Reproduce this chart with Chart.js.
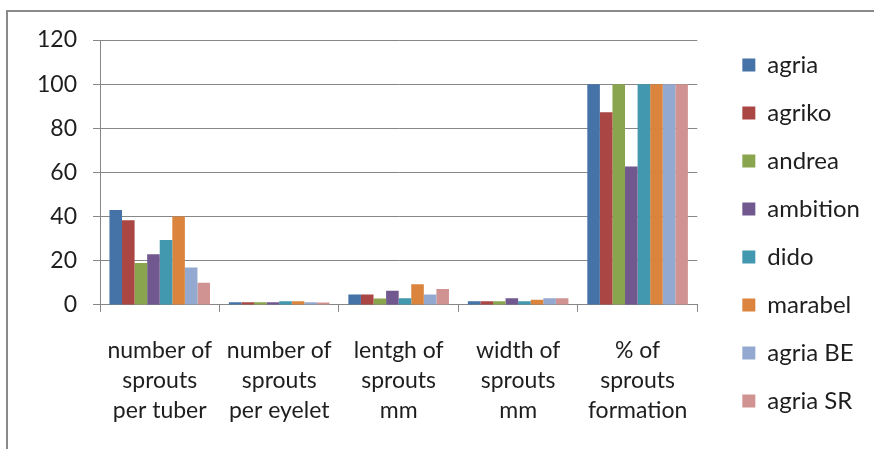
<!DOCTYPE html>
<html>
<head>
<meta charset="utf-8">
<script src="https://cdn.jsdelivr.net/npm/chart.js@4.4.1/dist/chart.umd.min.js"></script>
<style>
  html, body { margin: 0; padding: 0; background: #ffffff; }
  #wrap { position: relative; width: 874px; height: 449px; }
</style>
</head>
<body>
<div id="wrap"><canvas id="c" width="874" height="449"></canvas></div>
<script>
const categories = [
  ["number of", "sprouts", "per tuber"],
  ["number of", "sprouts", "per eyelet"],
  ["lentgh of", "sprouts", "mm"],
  ["width of", "sprouts", "mm"],
  ["% of", "sprouts", "formation"]
];
const seriesNames = ["agria", "agriko", "andrea", "ambition", "dido", "marabel", "agria BE", "agria SR"];
const agria    = [43,   1.2, 4.7, 1.7, 100];
const agriko   = [38.3, 1.2, 4.7, 1.7, 87.3];
const andrea   = [19,   1.2, 2.9, 1.7, 100];
const ambition = [23,   1.2, 6.4, 3.0, 62.7];
const dido     = [29.4, 1.7, 3.0, 1.7, 100];
const marabel  = [40,   1.7, 9.4, 2.3, 100];
const agriaBE  = [17,   1.2, 4.7, 3.0, 100];
const agriaSR  = [10,   1.1, 7.2, 3.0, 100];
const yTicks = [0, 20, 40, 60, 80, 100, 120];

const seriesValues = [agria, agriko, andrea, ambition, dido, marabel, agriaBE, agriaSR];
const colors = ["#4572A7", "#AA4643", "#89A54E", "#71588F", "#4198AF", "#DB843D", "#93A9CF", "#D19392"];

const FONT = "Lato, 'Open Sans', sans-serif";
const GRID = "#878787";
Chart.defaults.font.family = FONT;
Chart.defaults.color = "#1e1e1e";

const framePlugin = {
  id: "frame",
  beforeDraw(chart) {
    const ctx = chart.ctx;
    ctx.save();
    ctx.strokeStyle = "#8a8a8a";
    ctx.lineWidth = 2;
    ctx.beginPath();
    ctx.moveTo(7, chart.height);
    ctx.lineTo(7, 11);
    ctx.lineTo(chart.width, 11);
    ctx.stroke();
    ctx.restore();
  }
};

const spacer = (pos, size) => ({
  position: pos,
  display: true,
  min: 0,
  max: 1,
  grid: { display: false, drawOnChartArea: false },
  border: { display: false },
  ticks: { display: false },
  afterFit: (scale) => {
    if (pos === "top" || pos === "bottom") { scale.height = size; } else { scale.width = size; }
  }
});

new Chart(document.getElementById("c"), {
  type: "bar",
  data: {
    labels: categories,
    datasets: seriesNames.map((name, i) => ({
      label: name,
      data: seriesValues[i],
      backgroundColor: colors[i],
      borderWidth: 0,
      categoryPercentage: 0.842,
      barPercentage: 1.0
    }))
  },
  options: {
    responsive: false,
    animation: false,
    layout: { padding: { left: 0, right: 12, top: 17, bottom: 0 } },
    plugins: {
      legend: {
        position: "right",
        labels: {
          boxWidth: 13,
          boxHeight: 13,
          padding: 24,
          color: "#1e1e1e",
          font: { family: FONT, size: 24 }
        }
      },
      tooltip: { enabled: false }
    },
    scales: {
      x: {
        offset: true,
        grid: {
          offset: true,
          drawOnChartArea: false,
          drawTicks: true,
          tickLength: 7,
          color: GRID,
          lineWidth: 1
        },
        border: { display: true, color: GRID, width: 1 },
        ticks: {
          color: "#1e1e1e",
          padding: 23,
          maxRotation: 0,
          autoSkip: false,
          font: { family: FONT, size: 23, lineHeight: 1.32 }
        }
      },
      y: {
        min: 0,
        max: 120,
        afterBuildTicks: (scale) => { scale.ticks = yTicks.map(v => ({ value: v })); },
        afterFit: (scale) => { scale.width = 100; },
        grid: {
          color: GRID,
          lineWidth: 1,
          tickLength: 7
        },
        border: { display: true, color: GRID, width: 1 },
        ticks: {
          color: "#1e1e1e",
          padding: 16,
          font: { family: FONT, size: 23 }
        }
      },
      gapRight: spacer("right", 21),
      gapTop: spacer("top", 23)
    }
  },
  plugins: [framePlugin]
});
</script>
</body>
</html>
